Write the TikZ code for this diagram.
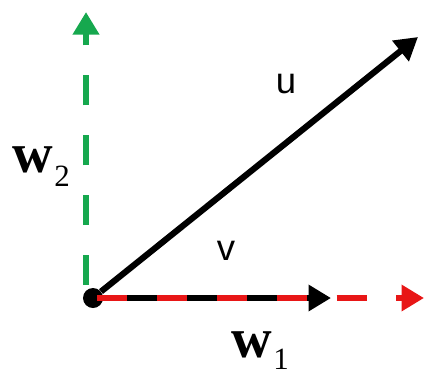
\documentclass[tikz,border=0pt]{standalone}
\usepackage{fontspec}
\setmainfont{Liberation Serif}
\setsansfont{Liberation Sans}
\usetikzlibrary{arrows.meta}
\definecolor{vecgreen}{RGB}{22,168,78}
\definecolor{vecred}{RGB}{232,22,22}

\begin{document}
\begin{tikzpicture}[x=0.025cm, y=-0.025cm,
    vec/.style={line width=4.4pt, -{Triangle[length=16pt,width=18pt]}},
    lbl/.style={inner sep=0pt, font=\sffamily\fontsize{26}{26}\selectfont},
    wlbl/.style={inner sep=0pt, anchor=base west, font=\fontsize{40}{40}\selectfont}]
    \useasboundingbox (0,0) rectangle (425,376);
    \node[circle, fill=black, minimum size=0.5cm, inner sep=0pt] (O) at (93,298) {};
    \coordinate (U) at (418,37);
    \coordinate (V) at (331,298);
    \coordinate (W1) at (424,298);
    \coordinate (G0) at (86,298);
    \coordinate (W2) at (86,12);
    \draw[vec, vecgreen, dash pattern=on 21.3pt off 21.3pt, dash phase=33.4pt] (G0) -- (W2);
    \draw[vec] (O) -- (U);
    \draw[vec] (O.center) -- (V);
    \draw[vec, vecred, line width=4pt, dash pattern=on 21.3pt off 21.3pt, dash phase=39.8pt] (O.center) -- (W1);
    \node[lbl] (u) at (286,84) {u};
    \node[lbl] (v) at (226,251) {v};
    \node[wlbl] (w2) at (12,172) {\textbf{w}\hspace{1pt}\raisebox{-10.5pt}{\fontsize{22}{22}\selectfont 2}};
    \node[wlbl] (w1) at (231,357) {\textbf{w}\hspace{1pt}\raisebox{-9pt}{\fontsize{22}{22}\selectfont 1}};
\end{tikzpicture}
\end{document}
